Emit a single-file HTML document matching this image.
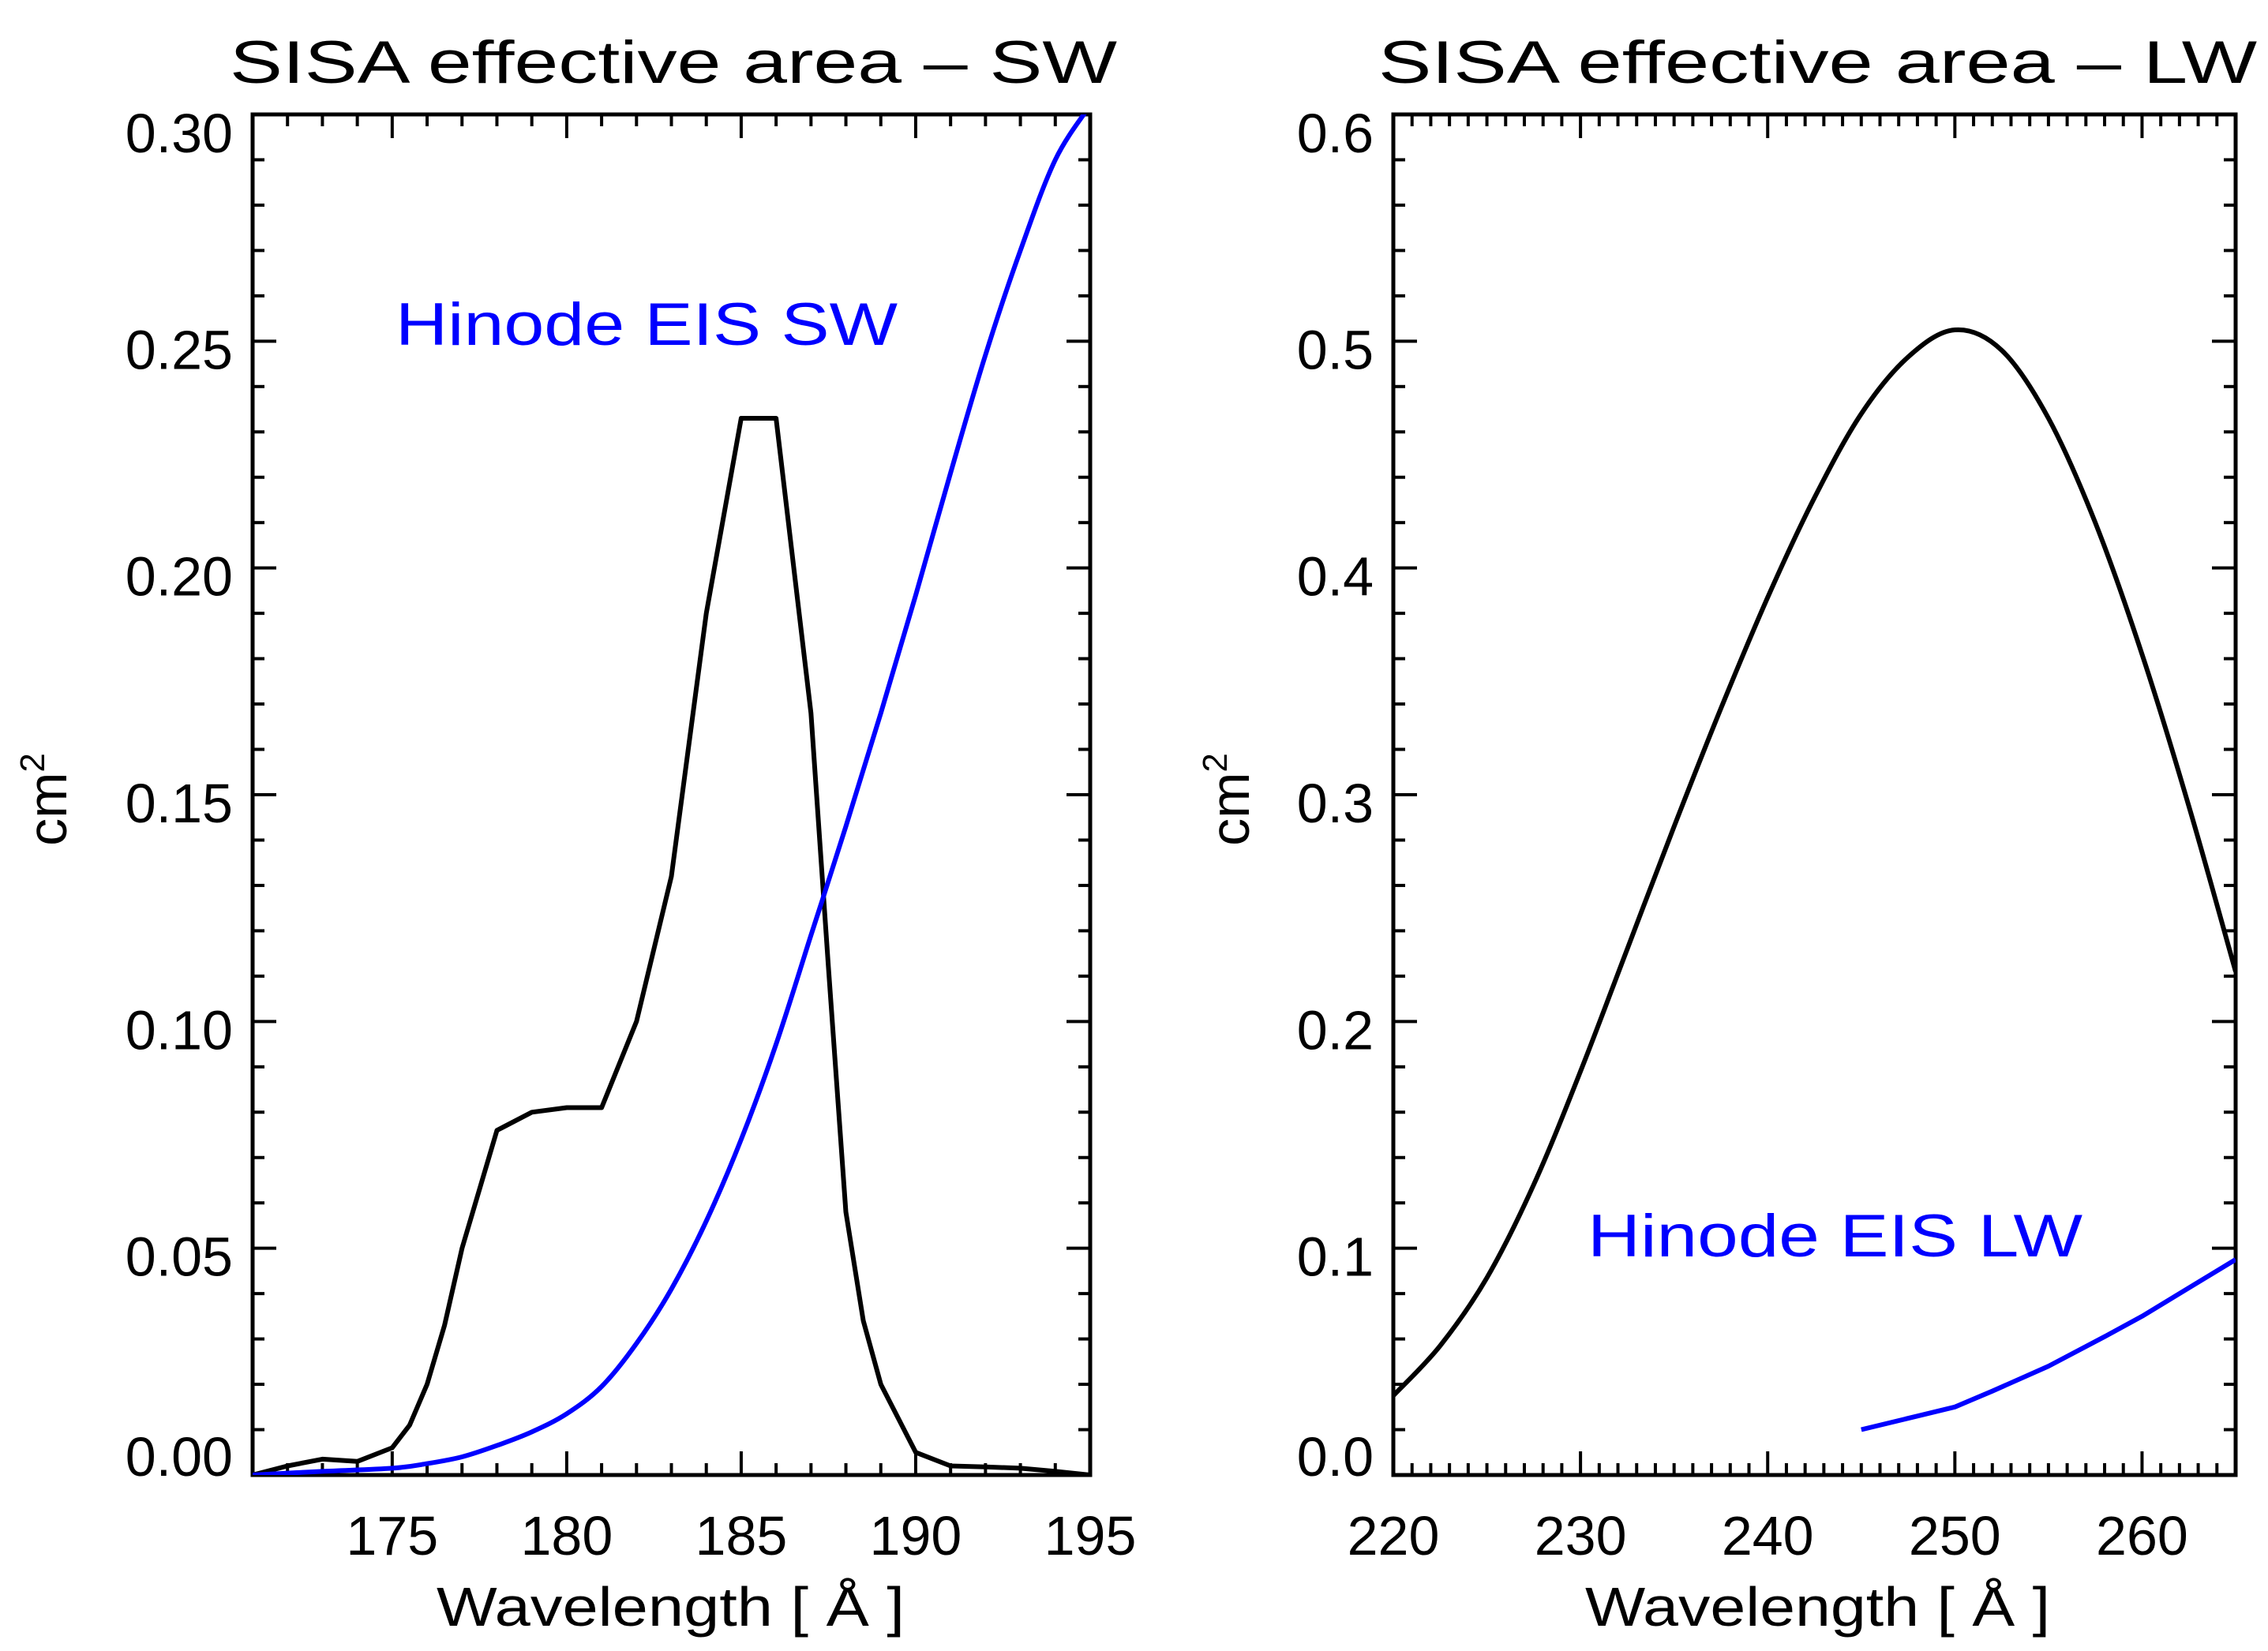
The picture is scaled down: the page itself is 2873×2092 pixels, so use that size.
<!DOCTYPE html>
<html><head><meta charset="utf-8"><style>
html,body{margin:0;padding:0;background:#fff}
svg{display:block}
text{font-family:"Liberation Sans",sans-serif;}
</style></head><body>
<svg id="chart" width="2873" height="2092" viewBox="0 0 2873 2092" xmlns="http://www.w3.org/2000/svg"></svg>
<script>
// ---- data ----
const swBlackX=[171,172,173,174,175,175.5,176,176.5,177,178,179,180,181,182,183,184,185,186,187,187.5,188,188.5,189,190,191,192,193,194,195];
const swBlackY=[0,0.002,0.0035,0.003,0.006,0.011,0.020,0.033,0.050,0.076,0.080,0.081,0.081,0.100,0.132,0.190,0.233,0.233,0.168,0.112,0.058,0.034,0.020,0.005,0.002,0.0018,0.0015,0.0008,0];
const swBlueX=[171,173,175,176,177,178,179,180,181,182,183,184,185,186,187,188,189,190,191,192,193,194,195];
const swBlueY=[0,0.0008,0.0015,0.0025,0.004,0.0065,0.0095,0.0135,0.0195,0.029,0.041,0.056,0.074,0.095,0.119,0.143,0.168,0.194,0.221,0.247,0.270,0.290,0.302];
const lwBlackX=[220,222.5,225,227.5,230,232.5,235,237.5,240,242.5,245,247.5,250,252.5,255,257.5,260,262.5,265];
const lwBlackY=[0.035,0.057,0.087,0.128,0.178,0.232,0.286,0.338,0.387,0.431,0.468,0.493,0.505,0.496,0.466,0.420,0.362,0.295,0.222];
const lwBlueX=[245,248,250,252,255,258,260,262,265];
const lwBlueY=[0.020,0.026,0.030,0.037,0.048,0.061,0.070,0.080,0.095];
const swXTicks=["175","180","185","190","195"];
const swYTicks=["0.00","0.05","0.10","0.15","0.20","0.25","0.30"];
const lwXTicks=["220","230","240","250","260"];
const lwYTicks=["0.0","0.1","0.2","0.3","0.4","0.5","0.6"];

const NS="http://www.w3.org/2000/svg";
const svg=document.getElementById('chart');
function mk(tag,attrs,parent){const e=document.createElementNS(NS,tag);for(const k in attrs)e.setAttribute(k,attrs[k]);(parent||svg).appendChild(e);return e;}

function pathD(pts,smooth){
  if(!smooth) return pts.map((p,i)=>(i?'L':'M')+p[0].toFixed(1)+' '+p[1].toFixed(1)).join(' ');
  let d='M'+pts[0][0].toFixed(1)+' '+pts[0][1].toFixed(1);
  for(let i=0;i<pts.length-1;i++){
    const p0=pts[Math.max(i-1,0)],p1=pts[i],p2=pts[i+1],p3=pts[Math.min(i+2,pts.length-1)];
    const c1=[p1[0]+(p2[0]-p0[0])/6,p1[1]+(p2[1]-p0[1])/6];
    const c2=[p2[0]-(p3[0]-p1[0])/6,p2[1]-(p3[1]-p1[1])/6];
    d+=' C'+c1.map(v=>v.toFixed(1)).join(' ')+' '+c2.map(v=>v.toFixed(1)).join(' ')+' '+p2[0].toFixed(1)+' '+p2[1].toFixed(1);
  }
  return d;
}

function panel(o){
  const g=mk('g',{});
  
  
  const L=o.x0,R=o.x1,T=145,B=1869;
  const sx=v=>L+(v-o.xmin)/(o.xmax-o.xmin)*(R-L);
  const sy=v=>B-(v-o.ymin)/(o.ymax-o.ymin)*(B-T);
  const frame=mk('rect',{x:L,y:T,width:R-L,height:B-T,fill:'none',stroke:'#000','stroke-width':5},g);
  
  
  for(let v=Math.ceil(o.xmin);v<=o.xmax+1e-9;v+=o.xminor){
    const major=Math.abs((v/o.xmajor)-Math.round(v/o.xmajor))<1e-6;
    const len=major?30:15,x=sx(v);
    mk('line',{x1:x,y1:B,x2:x,y2:B-len,stroke:'#000','stroke-width':4},g);
    mk('line',{x1:x,y1:T,x2:x,y2:T+len,stroke:'#000','stroke-width':4},g);
  }
  o.xt.forEach(s=>{const x=sx(+s);
    const t=mk('text',{x:x,y:1970,'font-size':70,'text-anchor':'middle',fill:'#000'},g);t.textContent=s;
    
    });
  const nmin=Math.round((o.ymax-o.ymin)/o.yminor);
  for(let i=0;i<=nmin;i++){const v=o.ymin+i*o.yminor;const y=sy(v);
    const major=Math.abs(v/o.ymajor-Math.round(v/o.ymajor))<1e-6;const len=major?30:15;
    mk('line',{x1:L,y1:y,x2:L+len,y2:y,stroke:'#000','stroke-width':4},g);
    mk('line',{x1:R,y1:y,x2:R-len,y2:y,stroke:'#000','stroke-width':4},g);}
  o.yt.forEach(s=>{const y=sy(+s);const by=Math.min(Math.max(y+35,193),1870);
    const t=mk('text',{x:L-25,y:by,'font-size':70,'text-anchor':'end',fill:'#000'},g);t.textContent=s;
    
    });
  const clip=mk('clipPath',{id:o.name+'-clip'},g);mk('rect',{x:L,y:T,width:R-L,height:B-T},clip);
  o.series.forEach(s=>{
    const pts=s.x.map((xv,i)=>[sx(xv),sy(s.y[i])]);
    const p=mk('path',{d:pathD(pts,s.smooth),fill:'none',stroke:s.c,'stroke-width':6,'stroke-linejoin':'round','clip-path':'url(#'+o.name+'-clip)'},g);
    
    
  });
  const ti=mk('text',{x:o.tx0,y:105,'font-size':76,textLength:o.tx1-o.tx0,lengthAdjust:'spacingAndGlyphs',fill:'#000'},g);ti.textContent=o.title;
  
  
  const xl=mk('text',{x:o.xl0,y:2060,'font-size':70,textLength:o.xl1-o.xl0,lengthAdjust:'spacingAndGlyphs',fill:'#000'},g);xl.textContent='Wavelength [ Å ]';
  
  
  const yl=mk('text',{x:0,y:0,'font-size':70,'text-anchor':'middle',fill:'#000',transform:'translate('+o.ylx+',1013) rotate(-90)'},g);
  yl.innerHTML='cm<tspan dy="-28" font-size="44">2</tspan>';
  
  
  const bl=mk('text',{x:o.bx0,y:o.by,'font-size':76,textLength:o.bx1-o.bx0,lengthAdjust:'spacingAndGlyphs',fill:'#0000ff'},g);bl.textContent=o.blue;
  
  
}
panel({name:'sw-panel',x0:320,x1:1381,xmin:171,xmax:195,ymin:0,ymax:0.30,xminor:1,xmajor:5,yminor:0.01,ymajor:0.05,
  xt:swXTicks,yt:swYTicks,title:'SISA effective area – SW',tx0:291,tx1:1415,xl0:553,xl1:1146,ylx:84,
  blue:'Hinode EIS SW',bx0:501,bx1:1137,by:437,
  series:[{x:swBlackX,y:swBlackY,c:'#000',n:'sisa-sw-curve'},{x:swBlueX,y:swBlueY,c:'#0000ff',n:'eis-sw-curve',smooth:true}]});
panel({name:'lw-panel',x0:1765,x1:2832,xmin:220,xmax:265,ymin:0,ymax:0.6,xminor:1,xmajor:10,yminor:0.02,ymajor:0.1,
  xt:lwXTicks,yt:lwYTicks,title:'SISA effective area – LW',tx0:1746,tx1:2859,xl0:2008,xl1:2597,ylx:1582,
  blue:'Hinode EIS LW',bx0:2011,bx1:2638,by:1592,
  series:[{x:lwBlackX,y:lwBlackY,c:'#000',n:'sisa-lw-curve',smooth:true},{x:lwBlueX,y:lwBlueY,c:'#0000ff',n:'eis-lw-curve'}]});
</script>
</body></html>
